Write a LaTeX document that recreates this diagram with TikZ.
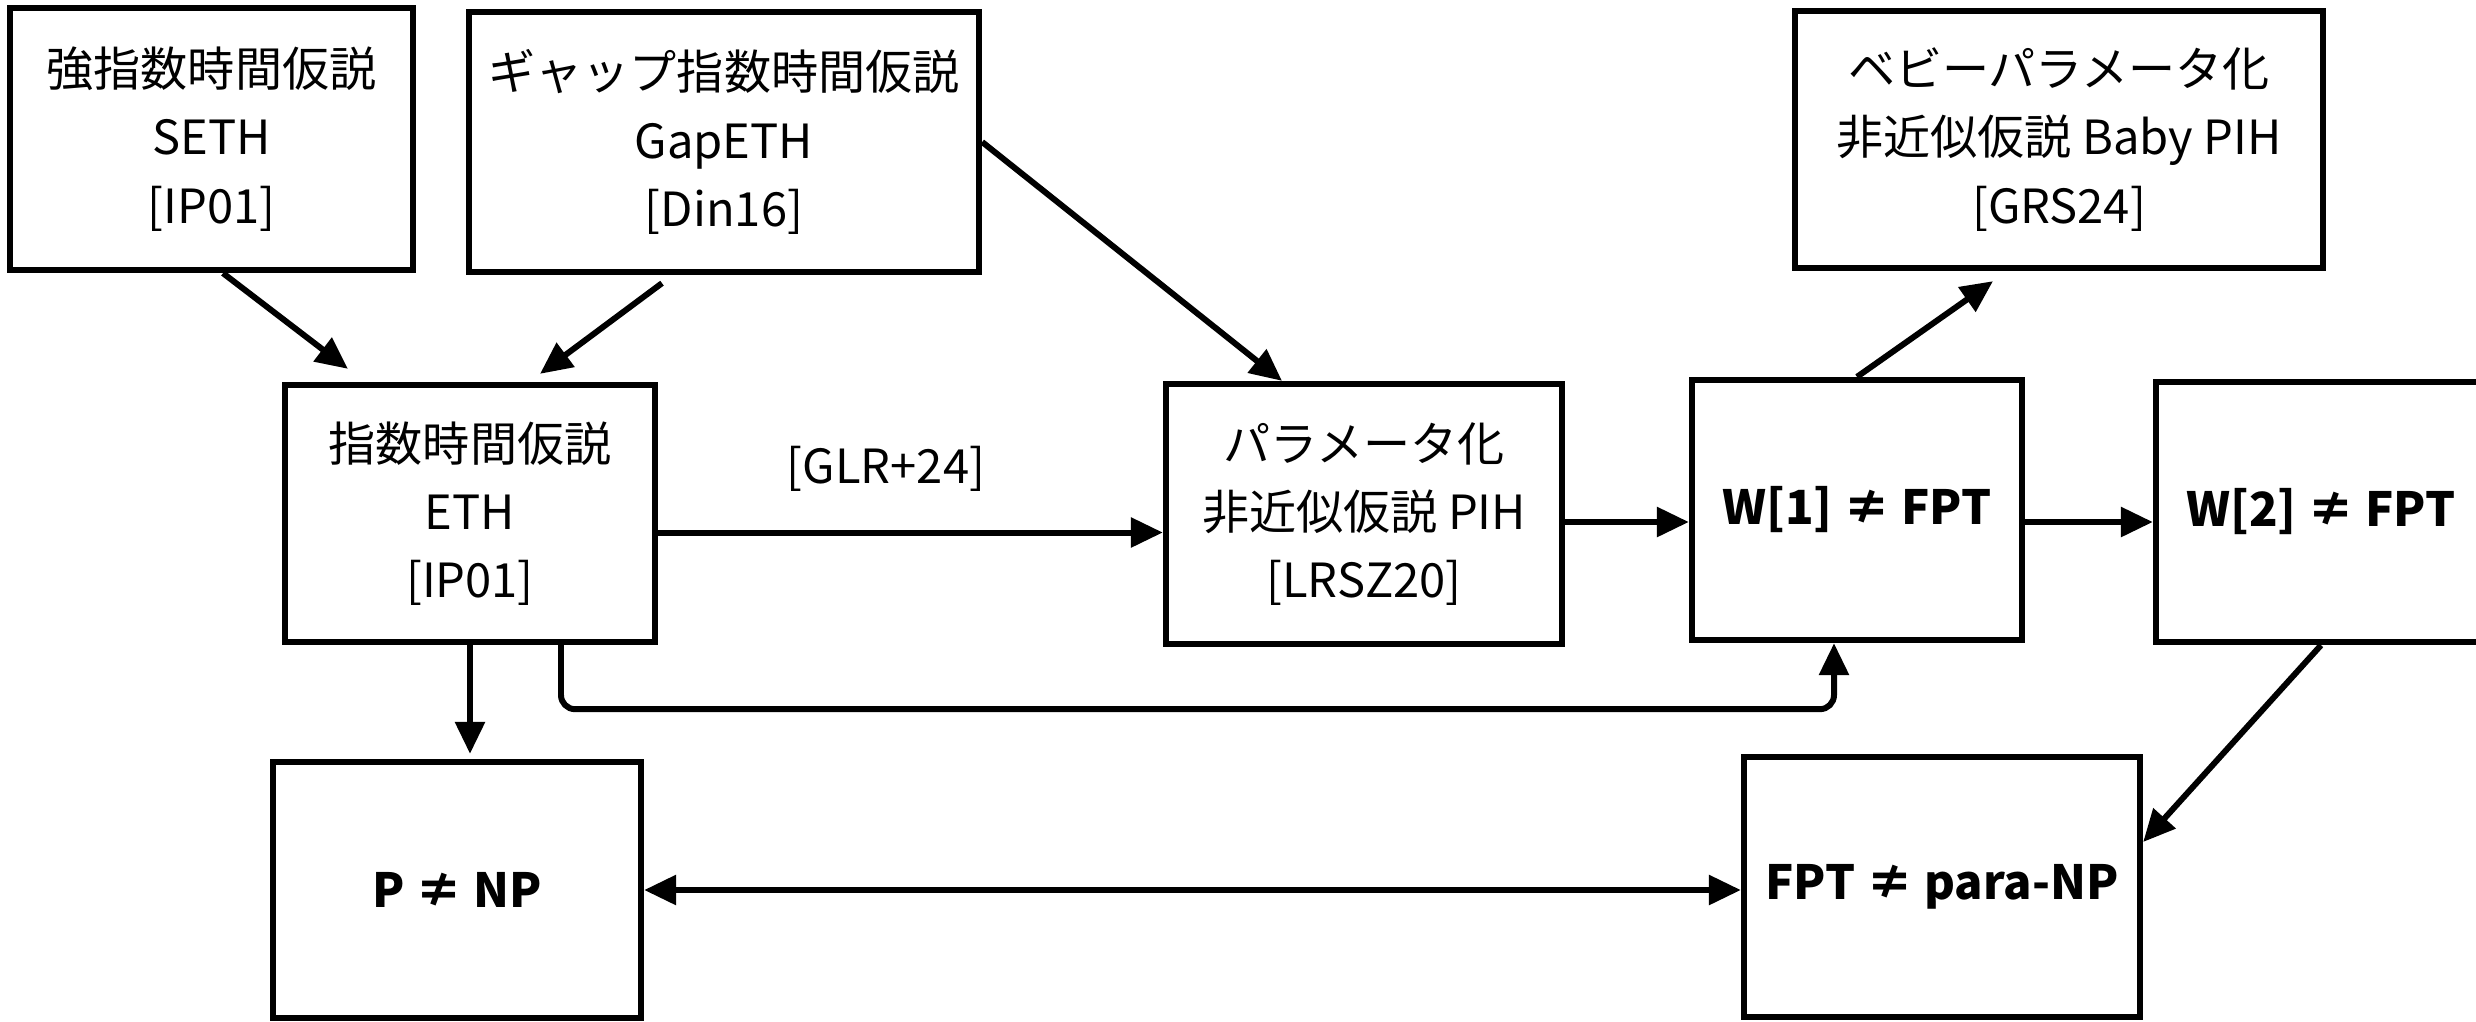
\documentclass[tikz,border=0pt]{standalone}
\usepackage{fontspec}
\setmainfont{Noto Sans CJK JP}
\usetikzlibrary{arrows.meta,positioning,calc}

\begin{document}
\begin{tikzpicture}[font=\fontsize{13.4pt}{19.4pt}\selectfont,
 hyp/.style={draw=black,line width=1.8pt,align=center,inner sep=2pt},
 res/.style={hyp,font=\fontsize{13.4pt}{19.4pt}\selectfont\bfseries},
 link/.style={draw=black,line width=1.7pt,-{Triangle[length=0.32cm,width=0.29cm]}}]
\useasboundingbox (0,0) rectangle (24.76,-10.21);
\node[hyp,minimum width=4.03cm,minimum height=2.62cm] (seth) at (2.115,-1.39) {強指数時間仮説\\SETH\\{[IP01]}};
\node[hyp,minimum width=5.10cm,minimum height=2.60cm] (gap) at (7.24,-1.42) {ギャップ指数時間仮説\\GapETH\\{[Din16]}};
\node[hyp,minimum width=3.70cm,minimum height=2.57cm] (eth) at (4.70,-5.135) {指数時間仮説\\ETH\\{[IP01]}};
\node[hyp,minimum width=3.96cm,minimum height=2.60cm] (pih) at (13.64,-5.14) {パラメータ化\\非近似仮説 PIH\\{[LRSZ20]}};
\node[res,minimum width=3.30cm,minimum height=2.60cm] (wone) at (18.57,-5.10) {W[1] ≠ FPT};
\node[res,minimum width=3.30cm,minimum height=2.60cm] (wtwo) at (23.21,-5.12) {W[2] ≠ FPT};
\node[hyp,minimum width=5.28cm,minimum height=2.57cm] (baby) at (20.59,-1.395) {ベビーパラメータ化\\非近似仮説 Baby PIH\\{[GRS24]}};
\node[res,minimum width=3.68cm,minimum height=2.56cm] (pnp) at (4.57,-8.90) {P ≠ NP};
\node[res,minimum width=3.96cm,minimum height=2.60cm] (fpt) at (19.42,-8.87) {FPT ≠ para-NP};
\node (glr) at (8.86,-4.69) {[GLR+24]};
\draw[link] ([xshift=0.115cm]seth.south) -- ([xshift=-1.22cm,yshift=0.13cm]eth.north);
\draw[link] ([xshift=-0.62cm,yshift=-0.08cm]gap.south) -- ([xshift=0.70cm,yshift=0.08cm]eth.north);
\draw[link] (gap.east) -- ([xshift=-0.82cm]pih.north);
\draw[link] ([yshift=-0.19cm]eth.east) -- ([yshift=-0.19cm]eth.east -| pih.west);
\draw[link] ([yshift=-0.08cm]pih.east) -- ([yshift=-0.08cm]pih.east -| wone.west);
\draw[link] ([yshift=-0.12cm]wone.east) -- ([yshift=-0.12cm]wone.east -| wtwo.west);
\draw[link] (wone.north) -- ([xshift=-0.66cm,yshift=-0.10cm]baby.south);
\draw[link] (eth.south) -- ([yshift=0.05cm]eth.south |- pnp.north);
\draw[link,rounded corners=4pt] ([xshift=0.91cm]eth.south) -- ++(0,-0.64) -| ([xshift=-0.23cm]wone.south);
\draw[link] (wtwo.south) -- ([yshift=0.45cm]fpt.east);
\draw[link,{Triangle[length=0.32cm,width=0.29cm]}-{Triangle[length=0.32cm,width=0.29cm]}] (pnp.east) -- (pnp.east -| fpt.west);
\end{tikzpicture}
\end{document}
